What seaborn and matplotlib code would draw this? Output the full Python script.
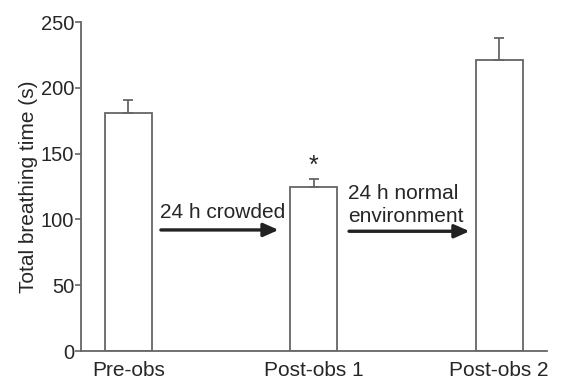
import numpy as np
import pandas as pd
import matplotlib
matplotlib.use("Agg")
import matplotlib.pyplot as plt
import seaborn as sns

# values
groups = ["Pre-obs", "Post-obs 1", "Post-obs 2"]
means = [181, 125, 221]
sem_upper = [10, 6, 17]

sns.set_style("ticks")
plt.rcParams["font.family"] = ["Liberation Sans", "DejaVu Sans"]

df = pd.DataFrame({"group": groups, "time": means})

fig = plt.figure(figsize=(5.72, 3.81), dpi=100)
ax = fig.add_axes([0.1416, 0.0787, 0.8144, 0.8635])

edge = "#666666"
sns.barplot(data=df, x="group", y="time", color="white", edgecolor=edge,
            linewidth=1.3, width=0.255, errorbar=None, ax=ax)

x = np.arange(len(groups))
ax.errorbar(x, means, yerr=[np.zeros(len(means)), sem_upper], fmt="none",
            ecolor=edge, elinewidth=1.3, capsize=3.5, capthick=1.3)

# significance marker
ax.text(x[1], means[1] + sem_upper[1] + 10, "*", ha="center", va="center",
        fontsize=18)

# transition arrows
arrow_kw = dict(arrowstyle="-|>,head_length=0.9,head_width=0.4", color="#222222",
                lw=2.4, shrinkA=0, shrinkB=0)
ax.annotate("", xy=(0.81, 92), xytext=(0.175, 92), arrowprops=arrow_kw)
ax.text(0.17, 101, "24 h crowded", ha="left", va="baseline", fontsize=15)
ax.annotate("", xy=(1.84, 91), xytext=(1.19, 91), arrowprops=arrow_kw)
ax.text(1.185, 98, "24 h normal\nenvironment", ha="left", va="baseline",
        fontsize=15, linespacing=1.25)

ax.set_ylim(0, 250)
ax.set_xlim(-0.256, 2.257)
ax.set_yticks([0, 50, 100, 150, 200, 250])
ax.set_xlabel("")
ax.set_ylabel("Total breathing time (s)", fontsize=15, labelpad=2)
ax.tick_params(axis="y", labelsize=14.5, length=4, color=edge, width=1.2, pad=1)
ax.tick_params(axis="x", labelsize=15, length=0, pad=7)
for side in ["left", "bottom"]:
    ax.spines[side].set_color(edge)
    ax.spines[side].set_linewidth(1.3)
sns.despine(ax=ax)

fig.savefig("out.png", dpi=100)
